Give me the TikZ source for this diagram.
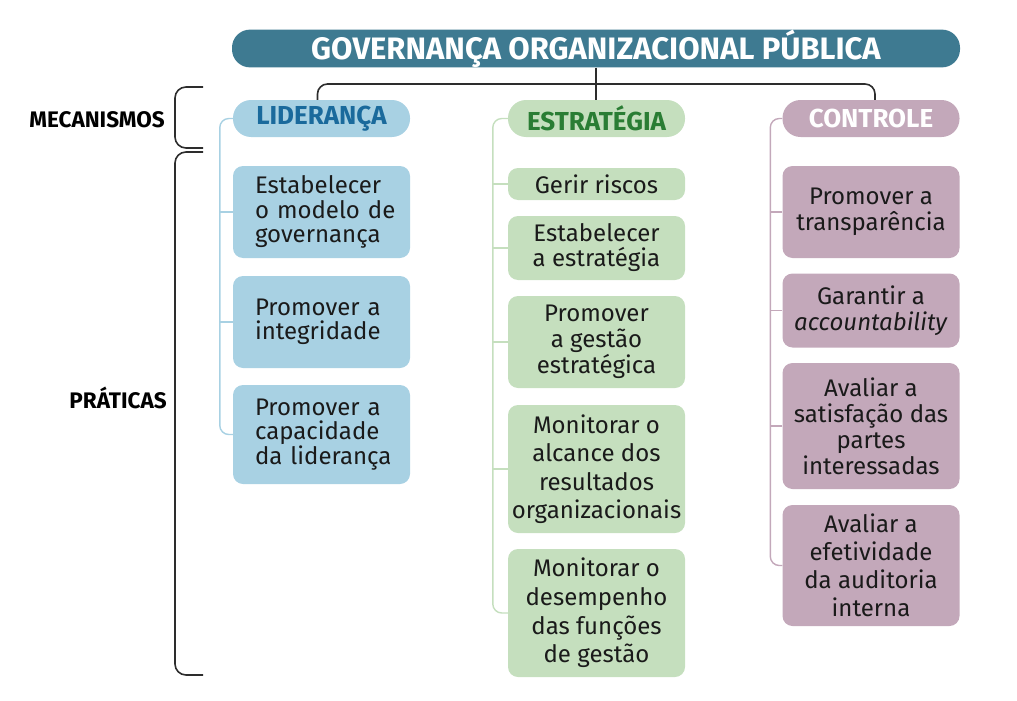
\documentclass[tikz,border=0pt]{standalone}
\usepackage{fontspec}
\setmainfont{Fira Sans}
\definecolor{teal}{RGB}{62,122,145}
\definecolor{lblue}{RGB}{168,209,227}
\definecolor{dblue}{RGB}{26,106,156}
\definecolor{lgreen}{RGB}{197,223,190}
\definecolor{dgreen}{RGB}{42,125,52}
\definecolor{mauve}{RGB}{195,168,186}
\definecolor{txt}{RGB}{26,26,26}
\definecolor{brk}{RGB}{45,45,45}
\tikzset{
  pill/.style={rounded corners=18pt, minimum width=177pt, minimum height=37pt, inner sep=0pt,
    font=\bfseries\fontsize{26}{26}\selectfont},
  box/.style={rounded corners=10pt, inner sep=0pt, minimum width=177pt, align=center, text=txt},
  boxl/.style={box, align=left, text width=133pt, inner xsep=22pt},
  fs/.style={font=\fontsize{24}{#1}\selectfont},
  side/.style={line width=1.4pt, rounded corners=9pt},
  brace/.style={draw=brk, line width=1.6pt, rounded corners=11pt},
  lab/.style={font=\bfseries\fontsize{22.5}{23}\selectfont, text=black, anchor=east, inner sep=0pt}
}
\begin{document}
\hyphenpenalty=10000\relax
\exhyphenpenalty=10000\relax
\begin{tikzpicture}[x=1pt,y=-1pt]
\useasboundingbox (0,0) rectangle (1017,701);
% title
\node[fill=teal, rounded corners=18pt, minimum width=728pt, minimum height=37pt, inner sep=0pt,
  text=white, font=\bfseries\fontsize{31}{31}\selectfont] (title) at (596,48.5)
  {GOVERNANÇA ORGANIZACIONAL PÚBLICA};
% pills
\node[pill, fill=lblue, text=dblue] (lid) at (321.5,118.5) {LIDERANÇA};
\node[pill, fill=lgreen, text=dgreen] (est) at (596.5,118.5) {ESTRATÉGIA};
\node[pill, fill=mauve, text=white] (ctl) at (871,118.5) {CONTROLE};
% connectors from title
\coordinate (hbar) at (596,84);
\draw[line width=1.6pt, draw=brk] (title.south) -- (title.south |- est.north);
\draw[line width=1.6pt, draw=brk, rounded corners=10pt] ([xshift=-4pt]lid.north) |- (hbar) -| ([xshift=4pt]ctl.north);
% Lideranca boxes
\node[boxl, fs=24.5, fill=lblue, minimum height=92pt] (l1) at (321.5,212) {Estabelecer\\o~modelo~de\\governança};
\node[boxl, fs=24.5, fill=lblue, minimum height=92pt] (l2) at (321.5,322) {Promover~a\\integridade};
\node[boxl, fs=24.5, fill=lblue, minimum height=99pt] (l3) at (321.5,434.5) {Promover~a\\capacidade\\da~liderança};
% Estrategia boxes
\node[box, fs=25, fill=lgreen, minimum height=32pt] (e1) at (596.5,184) {Gerir riscos};
\node[box, fs=25, fill=lgreen, minimum height=64pt] (e2) at (596.5,248) {Estabelecer\\a estratégia};
\node[box, fs=26, fill=lgreen, minimum height=92pt] (e3) at (596.5,342) {Promover\\a gestão\\estratégica};
\node[box, fs=28.5, fill=lgreen, minimum height=128pt] (e4) at (596.5,469) {Monitorar o\\alcance dos\\resultados\\organizacionais};
\node[box, fs=28.7, fill=lgreen, minimum height=128pt] (e5) at (596.5,613) {Monitorar o\\desempenho\\das funções\\de gestão};
% Controle boxes
\node[box, fs=26, fill=mauve, minimum height=92pt] (c1) at (871,212) {Promover a\\transparência};
\node[box, fs=26, fill=mauve, minimum height=74pt] (c2) at (871,310.5) {Garantir a\\\textit{accountability}};
\node[box, fs=26, fill=mauve, minimum height=126pt] (c3) at (871,426) {Avaliar a\\satisfação das\\partes\\interessadas};
\node[box, fs=28, fill=mauve, minimum height=121pt] (c4) at (871,565.5) {Avaliar a\\efetividade\\da auditoria\\interna};
% side lines
\draw[side, draw=lblue] (lid.west) -| ([xshift=-13pt]l3.west) -- (l3.west);
\draw[side, draw=lblue] (l1.west) -- ++(-13,0);
\draw[side, draw=lblue] (l2.west) -- ++(-13,0);
\draw[side, draw=lgreen] (est.west) -| ([xshift=-15pt]e5.west) -- (e5.west);
\foreach \n in {e1,e2,e3,e4} \draw[side, draw=lgreen] (\n.west) -- ++(-15,0);
\draw[side, draw=mauve] (ctl.west) -| ([xshift=-12pt]c4.west) -- (c4.west);
\foreach \n in {c1,c2,c3} \draw[side, draw=mauve] (\n.west) -- ++(-12,0);
% brackets
\coordinate (m1) at (203,87);
\coordinate (m2) at (203,148);
\coordinate (p1) at (203,152);
\coordinate (p2) at (203,675);
\draw[brace] (m1) -- (175,87) -- (175,148) -- (m2);
\draw[brace] (p1) -- (175,152) -- (175,675) -- (p2);
\node[lab] (mec) at (165,120) {MECANISMOS};
\node[lab] (pra) at (167,398) {PRÁTICAS};
\end{tikzpicture}
\end{document}
